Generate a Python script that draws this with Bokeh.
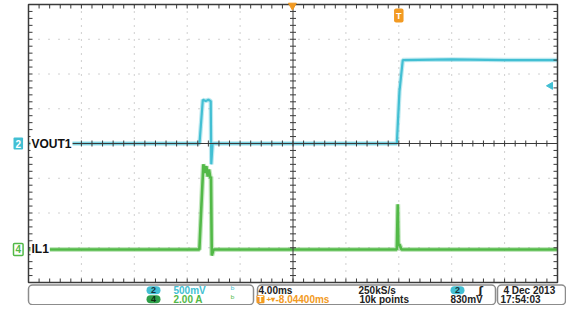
import numpy as np
from bokeh.plotting import figure
from bokeh.models import Range1d, Label
from bokeh.embed import file_html
from bokeh.resources import INLINE
from bokeh.core.properties import value

# ---------------- data ----------------
# channel 2 : VOUT1 (volts) vs time (ms, trigger at 0)
vout_t = [-28.0, -15.07, -14.82, -14.6, -14.4, -14.22, -14.18, -14.08, -0.15, 0.05, 0.3, 4.0, 8.0, 12.0]
vout_v = [0.0, 0.0, 0.63, 0.61, 0.63, 0.61, -0.3, 0.0, 0.0, 0.75, 1.2, 1.21, 1.2, 1.2]
# channel 4 : IL1 (amps) vs time (ms)
il_t = [-28.0, -15.08, -14.78, -14.65, -14.55, -14.45, -14.35, -14.25, -14.2, -14.14, -14.0,
        -0.15, -0.08, -0.03, 0.05, 0.2, 12.0]
il_a = [0.0, 0.0, 4.9, 4.4, 4.8, 4.2, 4.6, 4.1, 4.2, -0.35, 0.0, 0.0, 2.6, 0.2, 0.3, 0.0, 0.0]

# scope settings (from the readout)
t_start, t_end = -28.0, 12.0      # 4.00 ms/div, 10 div
v_per_div = 0.5                   # 500 mV/div
a_per_div = 2.0                   # 2.00 A/div
il_offset_div = -3.05             # ground marker of ch4 (divisions)
trig_level = 0.83                 # 830 mV
h_pos = -8.044                    # horizontal position
row1_text = ["500mV", "4.00ms", "250kS/s", "4 Dec  2013"]
row2_text = ["2.00 A", "-8.04400ms", "10k points", "830mV", "17:54:03"]

CYAN = "#42bfd3"
GREEN = "#52b947"
ORANGE = "#f29a22"
DARK = "#3a3a3a"
DOT = "#a0a0a0"
FONT_NAME = "Liberation Sans"
FONT = value(FONT_NAME)

# ---------------- layout (pixels) ----------------
W, H = 566, 305
L, R, T, B = 28, 557, 4, 282          # graticule box
NX, NY = 10, 8
dx, dy = (R - L) / NX, (B - T) / NY

ms_px = (t_end - t_start) / (R - L)
v_px = NY * v_per_div / (B - T)
a_px = NY * a_per_div / (B - T)
v_top = NY / 2 * v_per_div
a_top = (NY / 2 - il_offset_div) * a_per_div

p = figure(width=W, height=H,
           x_range=Range1d(t_start - L * ms_px, t_end + (W - R) * ms_px),
           y_range=Range1d(v_top - (H - T) * v_px, v_top + T * v_px),
           output_backend="svg", toolbar_location=None,
           x_axis_location=None, y_axis_location=None, min_border=0)
p.extra_y_ranges = {"il": Range1d(a_top - (H - T) * a_px, a_top + T * a_px),
                    "py": Range1d(H, 0)}
p.extra_x_ranges = {"px": Range1d(0, W)}
p.xgrid.visible = False
p.ygrid.visible = False
p.outline_line_color = None

PX = dict(x_range_name="px", y_range_name="py")

# dotted graticule
gx = [L + k * dx for k in range(1, NX) if k != NX // 2]
gy = [T + k * dy for k in range(1, NY) if k != NY // 2]
p.segment(gx, T, gx, B, line_color=DOT, line_width=1, line_dash="1 6", **PX)
p.segment(L, gy, R, gy, line_color=DOT, line_width=1, line_dash="1 9", **PX)

# traces (soft halo for the noisy look + core line)
p.line(vout_t, vout_v, line_color=CYAN, line_width=4.5, line_alpha=0.35)
p.line(vout_t, vout_v, line_color=CYAN, line_width=2.2)
p.line(il_t, il_a, line_color=GREEN, line_width=5, line_alpha=0.35, y_range_name="il")
p.line(il_t, il_a, line_color=GREEN, line_width=2.6, y_range_name="il")

# centre cross, border and tick marks
xc, yc = L + NX // 2 * dx, T + NY // 2 * dy
p.segment([xc, L], [T, yc], [xc, R], [B, yc], line_color=DARK, line_width=1, **PX)
p.quad(left=L, right=R, top=T, bottom=B, fill_color=None, line_color=DARK,
       line_width=1.5, **PX)
xt = np.array([L + k * dx / 5 for k in range(NX * 5 + 1)])
yt = np.array([T + k * dy / 5 for k in range(NY * 5 + 1)])
tk = dict(line_color=DARK, line_width=1, **PX)
p.segment(xt, np.full_like(xt, T), xt, np.full_like(xt, T + 4), **tk)
p.segment(xt, np.full_like(xt, B), xt, np.full_like(xt, B - 4), **tk)
p.segment(xt, np.full_like(xt, yc - 3), xt, np.full_like(xt, yc + 3), **tk)
p.segment(np.full_like(yt, L), yt, np.full_like(yt, L + 4), yt, **tk)
p.segment(np.full_like(yt, R), yt, np.full_like(yt, R - 4), yt, **tk)
p.segment(np.full_like(yt, xc - 3), yt, np.full_like(yt, xc + 3), yt, **tk)

# markers: horizontal position, trigger level, trigger point
p.scatter([h_pos], [T + 1], marker="inverted_triangle", size=8, fill_color=ORANGE,
          line_color=ORANGE, y_range_name="py")
p.scatter([t_end - 7 * ms_px], [trig_level], marker="triangle", angle=np.pi / 2, size=7,
          fill_color=CYAN, line_color=CYAN)
p.add_layout(Label(x=0, y=T + 11, y_range_name="py", text="T", text_color="white",
                   text_font=FONT_NAME, text_font_size="9px", text_font_style="bold",
                   text_align="center", text_baseline="middle", background_fill_color=ORANGE,
                   padding=2, border_radius=2))

# channel labels
lab = dict(text_font=FONT_NAME, text_font_style="bold", text_baseline="middle", x_range_name="px")
p.add_layout(Label(x=30, y=0, text="VOUT1", text_color="#111", text_font_size="12px",
                   background_fill_color="white", padding=1, **lab))
p.add_layout(Label(x=13, y=0, text="2", text_color="white", text_font_size="10px",
                   background_fill_color=CYAN, padding=2, border_radius=1, **lab))
p.add_layout(Label(x=30, y=0, y_range_name="il", text="IL1", text_color="#111",
                   text_font_size="12px", background_fill_color="white", padding=1, **lab))
p.add_layout(Label(x=13, y=0, y_range_name="il", text="4", text_color=GREEN, text_font_size="10px",
                   background_fill_color="white", border_line_color=GREEN, border_line_width=1.5,
                   padding=2, border_radius=1, **lab))

# ---------------- readout panel ----------------
bt, bb = 284.5, 304.2
p.quad(left=[28, 257, 497], right=[253, 495, 565], top=bt, bottom=bb, fill_color="white",
       line_color="#8c8c8c", line_width=1.5, border_radius=4, **PX)
r1, r2 = 289.8, 298.8
p.quad(left=[146, 450, 146], right=[160, 464, 160], top=[r1 - 4, r1 - 4, r2 - 4],
       bottom=[r1 + 4, r1 + 4, r2 + 4], fill_color=[CYAN, CYAN, "#2e9e48"],
       line_color=None, border_radius=4, **PX)
p.quad(left=[256], right=[264], top=[r2 - 4], bottom=[r2 + 4], fill_color=ORANGE,
       line_color=None, border_radius=1, **PX)
p.text([153, 457, 153, 260], [r1, r1, r2, r2], text=["2", "2", "4", "T"],
       text_color=["#15343a", "#15343a", "#0d2a12", "white"], text_font=FONT,
       text_font_size="9px", text_font_style="bold", text_align="center",
       text_baseline="middle", **PX)
txt = dict(text_font=FONT, text_font_size="10px", text_font_style="bold",
           text_baseline="middle", **PX)
p.text([173, 258, 358, 503], [r1] * 4, text=row1_text,
       text_color=[CYAN, "#222", "#222", "#222"], **txt)
p.text([173, 275, 359, 450, 500], [r2] * 5, text=row2_text,
       text_color=[GREEN, ORANGE, "#222", "#222", "#222"], **txt)
p.text([266], [r2], text=["+▾"], text_color=ORANGE, text_font=FONT, text_font_size="8px",
       text_font_style="bold", text_baseline="middle", **PX)
p.text([230, 230], [r1, r2], text=["ᵇ", "ᵇ"], text_color=[CYAN, GREEN],
       text_font=value("DejaVu Sans"), text_font_size="10px", text_baseline="middle", **PX)
p.text([478], [r1], text=["ʃ"], text_color="#222", text_font=value("DejaVu Sans"),
       text_font_size="11px", text_font_style="bold", text_baseline="middle", **PX)

open("out.html", "w").write(file_html(p, INLINE))
